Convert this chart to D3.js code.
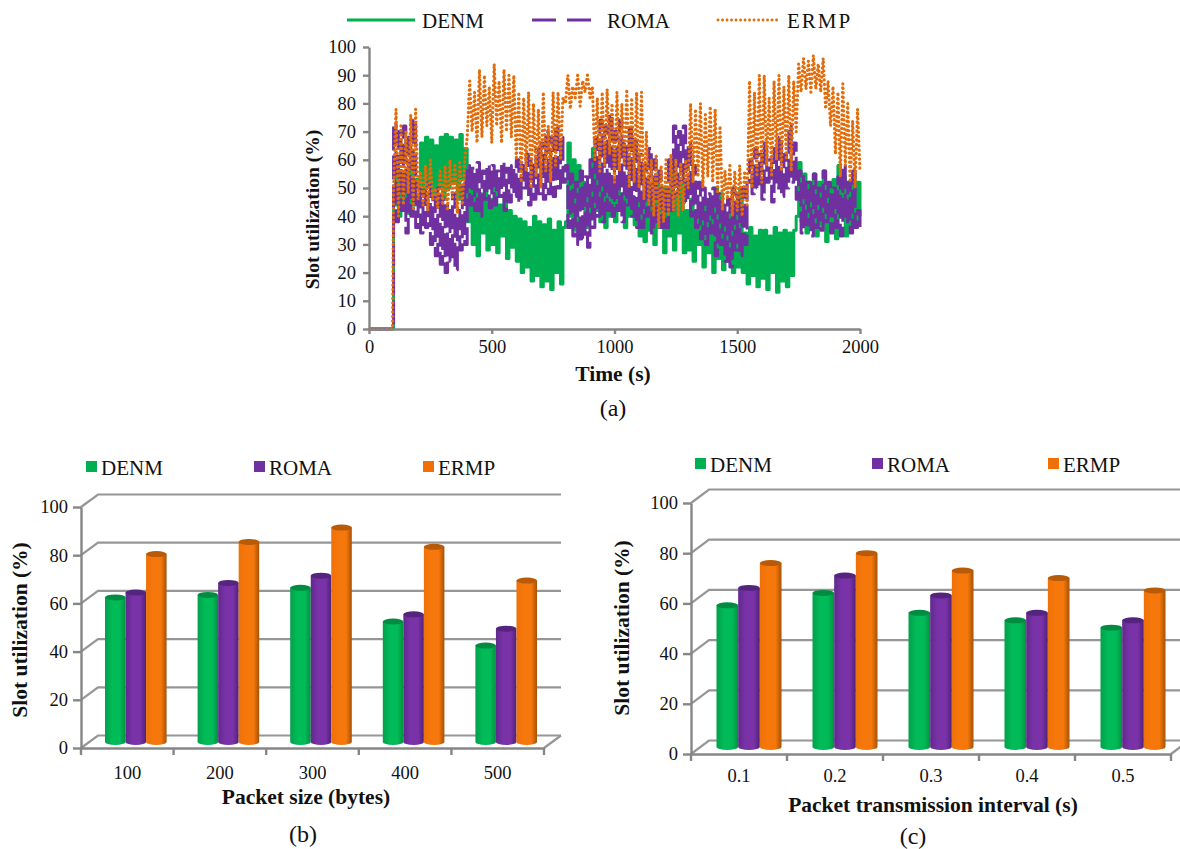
<!DOCTYPE html>
<html>
<head>
<meta charset="utf-8">
<script src="https://cdn.jsdelivr.net/npm/d3@7"></script>
<style>
  body { margin: 0; background: #fff; }
  svg { display: block; }
  text { font-family: "Liberation Serif", "Times New Roman", serif; fill: #111; }
  .title { font-weight: bold; font-size: 21.5px; }
  .tick text { font-size: 18.5px; }
  .axis path, .axis line { stroke: #868686; stroke-width: 2.4px; }
  .grid { stroke: #969696; stroke-width: 2.2px; fill: none; }
</style>
</head>
<body>
<svg id="chart" width="1180" height="849"></svg>
<script>
const seriesNames = ['DENM', 'ROMA', 'ERMP'];
const seriesColors = ['#00b050', '#7030a0', '#e36c0a'];

// panel (a) - one reading every 10 s from t=100, 10 readings per row
const leadTimes = [0, 50, 96];
const timeSeries = d3.range(100, 2001, 10);
const denmLine = [
  44,57,40,55,43,52,41,60,44,53,
  50,66,47,68,52,67,48,65,50,68,
  46,69,50,68,52,67,46,69,53,64,
  38,54,30,50,26,48,34,52,28,46,
  30,50,27,44,33,47,25,42,29,40,
  24,39,20,38,22,36,17,40,19,38,
  15,37,17,39,14,35,20,38,16,36,
  38,66,40,60,35,58,44,52,36,50,
  40,64,42,58,38,54,36,55,40,52,
  38,50,42,48,36,52,40,47,37,46,
  33,48,31,52,35,46,30,55,36,50,
  27,50,33,56,28,48,34,52,27,42,
  28,46,24,42,30,44,22,46,27,40,
  20,50,25,48,21,38,24,42,20,44,
  22,50,20,34,16,36,19,33,15,35,
  18,35,14,33,20,36,13,34,17,35,
  15,34,19,35,40,59,38,55,34,52,
  40,55,33,52,37,56,31,50,38,53,
  32,58,40,54,33,52,36,55,38,52,
  40
];
const romaLine = [
  73,38,70,42,72,34,68,40,74,36,
  50,34,49,36,52,30,47,26,50,23,
  46,20,44,24,48,21,42,28,52,30,
  58,44,57,42,59,40,56,46,58,43,
  58,44,56,47,59,42,57,45,58,47,
  60,45,58,50,62,44,60,46,64,48,
  66,46,70,48,68,47,72,50,68,52,
  58,36,55,33,52,30,56,32,54,29,
  60,36,68,40,74,38,72,42,76,40,
  70,42,74,38,66,44,72,40,68,36,
  62,36,58,40,64,34,60,38,56,36,
  50,36,60,42,72,48,70,52,72,45,
  66,40,58,36,52,32,50,30,48,34,
  50,26,48,30,44,24,46,22,50,28,
  48,26,50,30,52,60,48,64,50,62,
  46,66,52,60,45,64,50,68,47,62,
  50,72,52,66,46,56,34,54,37,52,
  33,55,36,50,35,56,38,52,34,50,
  36,54,33,58,38,52,34,56,36,42,
  35
];
const ermpLine = [
  50,78,40,72,44,70,48,76,42,78,
  46,56,44,58,42,60,46,50,43,56,
  44,58,42,60,46,58,41,59,44,60,
  68,88,70,84,66,92,68,90,72,86,
  66,94,72,88,66,92,70,90,68,90,
  60,84,52,82,56,84,50,80,54,78,
  50,84,56,72,52,84,58,84,60,82,
  80,90,78,86,82,90,79,88,84,90,
  82,86,60,82,56,84,58,85,62,80,
  52,84,56,80,58,85,50,82,52,84,
  50,84,46,70,44,60,40,62,36,58,
  38,60,40,62,42,60,40,59,42,60,
  50,80,52,78,54,80,50,76,54,79,
  52,78,48,72,42,56,46,58,40,56,
  42,58,40,56,44,88,50,84,54,90,
  52,90,58,82,54,88,60,90,56,86,
  60,90,56,88,70,94,84,96,85,95,
  84,97,85,94,84,96,78,88,72,86,
  62,84,54,87,58,80,52,74,50,78,
  56
];

// panel (b)
const packetSizes = ['100', '200', '300', '400', '500'];
const denmSize = [60, 61, 64, 50, 40];
const romaSize = [62, 66, 69, 53, 47];
const ermpSize = [78, 83, 89, 81, 67];

// panel (c)
const intervals = ['0.1', '0.2', '0.3', '0.4', '0.5'];
const denmInterval = [57, 62, 54, 51, 48];
const romaInterval = [64, 69, 61, 54, 51];
const ermpInterval = [74, 78, 71, 68, 63];

const yTicksLine = d3.range(0, 101, 10);
const xTicksLine = [0, 500, 1000, 1500, 2000];
const yTicksBar = [0, 20, 40, 60, 80, 100];

const svg = d3.select('#chart');

// gradients for the cylinders: [left edge, highlight, right edge, top cap]
const cylinderShades = [
  ['#03a04c', '#00bb58', '#01903f', '#018c42'],
  ['#5f2a8c', '#7a32a8', '#4e2278', '#54247e'],
  ['#ee7008', '#f6780c', '#a65206', '#b85a08']
];
const defs = svg.append('defs');
cylinderShades.forEach((s, i) => {
  const g = defs.append('linearGradient').attr('id', 'cyl' + i);
  g.append('stop').attr('offset', '0%').attr('stop-color', s[0]);
  g.append('stop').attr('offset', '35%').attr('stop-color', s[1]);
  g.append('stop').attr('offset', '72%').attr('stop-color', s[1]);
  g.append('stop').attr('offset', '100%').attr('stop-color', s[2]);
});

function label(x, y, str, size, anchor, cls) {
  return svg.append('text').attr('x', x).attr('y', y)
    .attr('class', cls || null)
    .attr('text-anchor', anchor || 'middle')
    .style('font-size', size ? size + 'px' : null)
    .text(str);
}

function yTitle(x, y, size) {
  svg.append('text').attr('class', 'title')
    .attr('transform', `translate(${x},${y}) rotate(-90)`)
    .attr('text-anchor', 'middle')
    .style('font-size', size ? size + 'px' : null)
    .text('Slot utilization (%)');
}

// ---------- (a) line chart ----------
function drawLineChart() {
  const x = d3.scaleLinear().domain([0, 2000]).range([369, 860]);
  const y = d3.scaleLinear().domain([0, 100]).range([329, 47]);

  const lines = [denmLine, romaLine, ermpLine];
  const dashes = [null, '24 5', '0.1 4.4'];
  const widths = [3, 3, 3.2];

  const line = d3.line().x(d => x(d[0])).y(d => y(d[1]));
  const stepLine = d3.line().x(d => x(d[0])).y(d => y(d[1])).curve(d3.curveStepAfter);
  lines.forEach((vals, i) => {
    const pts = leadTimes.map(t => [t, 0]).concat(timeSeries.map((t, j) => [t, vals[j]]));
    svg.append('path').attr('d', i === 2 ? line(pts) : stepLine(pts))
      .attr('fill', 'none')
      .attr('stroke', seriesColors[i])
      .attr('stroke-width', widths[i])
      .attr('stroke-dasharray', dashes[i])
      .attr('stroke-linecap', i === 2 ? 'round' : 'butt')
      .attr('stroke-linejoin', 'round');
  });

  svg.append('g').attr('class', 'axis').attr('transform', 'translate(369,0)')
    .call(d3.axisLeft(y).tickValues(yTicksLine).tickSize(6).tickPadding(7).tickSizeOuter(0));
  svg.append('g').attr('class', 'axis').attr('transform', 'translate(0,329)')
    .call(d3.axisBottom(x).tickValues(xTicksLine).tickSize(5).tickPadding(6).tickSizeOuter(0).tickFormat(d3.format('d')));

  // legend
  const legendDash = [null, '24 11', '0.1 4.4'];
  const legendX = [[347, 415, 422], [532, 591, 607], [718, 780, 787]];
  legendX.forEach((l, i) => {
    svg.append('line').attr('x1', l[0]).attr('x2', l[1]).attr('y1', 20).attr('y2', 20)
      .attr('stroke', seriesColors[i])
      .attr('stroke-width', 2.8)
      .attr('stroke-linecap', i === 2 ? 'round' : 'butt')
      .attr('stroke-dasharray', legendDash[i]);
    const t = label(l[2], 28, seriesNames[i], 21, 'start');
    if (i === 2) t.style('letter-spacing', '2px');
  });

  yTitle(319, 209.5, 19.5);
  label(613, 381, 'Time (s)', null, 'middle', 'title');
  label(613, 416, '(a)', 24);
}

// ---------- (b), (c) pseudo 3D bar charts ----------
function drawBarChart(cfg) {
  const depthX = cfg.depthX, depthY = cfg.depthY;
  const x0 = cfg.xRange[0], x1 = cfg.xRange[1];
  const y = d3.scaleLinear().domain([0, 100]).range(cfg.yRange);
  const barY = d3.scaleLinear().domain([0, 100]).range([cfg.barBase, cfg.barBase - cfg.barHeight]);
  const xCat = d3.scaleBand().domain(cfg.categories).range([x0, x1]);
  const xSer = d3.scaleBand().domain(seriesNames).range([cfg.inset, xCat.bandwidth() - cfg.inset]);

  // back wall grid + floor diagonals
  yTicksBar.forEach(t => {
    svg.append('path').attr('class', 'grid')
      .attr('d', `M${x0},${y(t)}L${x0 + depthX},${y(t) - depthY}H${x1 + depthX}`);
  });
  svg.append('path').attr('class', 'grid')
    .attr('d', `M${x1},${y(0)}L${x1 + depthX},${y(0) - depthY}`);

  // cylinders
  const ry = 3;
  cfg.series.forEach((vals, s) => {
    const name = seriesNames[s];
    const w = xSer.bandwidth();
    const g = svg.append('g');
    const left = (d, i) => xCat(cfg.categories[i]) + xSer(name) + depthX / 2 + cfg.nudge;
    g.selectAll('path.body').data(vals).join('path')
      .attr('class', 'body')
      .attr('fill', `url(#cyl${s})`)
      .attr('d', (d, i) => {
        const l = left(d, i), top = barY(d), base = cfg.barBase;
        return `M${l},${top}V${base}A${w / 2},${ry} 0 0 0 ${l + w},${base}V${top}Z`;
      });
    g.selectAll('ellipse').data(vals).join('ellipse')
      .attr('cx', (d, i) => left(d, i) + w / 2)
      .attr('cy', d => barY(d))
      .attr('rx', w / 2)
      .attr('ry', ry)
      .attr('fill', cylinderShades[s][3]);
  });

  // front axes
  svg.append('g').attr('class', 'axis').attr('transform', `translate(${x0},0)`)
    .call(d3.axisLeft(y).tickValues(yTicksBar).tickSize(8).tickPadding(5).tickSizeOuter(0));
  const gx = svg.append('g').attr('class', 'axis').attr('transform', `translate(0,${y(0)})`)
    .call(d3.axisBottom(xCat).tickSize(0).tickPadding(cfg.catPad));
  // ticks sit on the category boundaries
  gx.selectAll('line.sep').data(d3.range(cfg.categories.length + 1)).join('line')
    .attr('class', 'sep')
    .attr('x1', i => x0 + i * xCat.bandwidth())
    .attr('x2', i => x0 + i * xCat.bandwidth())
    .attr('y1', 0).attr('y2', 7);

  // legend
  cfg.legend.forEach((l, i) => {
    svg.append('rect').attr('x', l).attr('y', cfg.legendY).attr('width', 11).attr('height', 11)
      .attr('fill', seriesColors[i] === '#e36c0a' ? '#f07008' : seriesColors[i]);
    label(l + 15, cfg.legendY + 14, seriesNames[i], 21, 'start');
  });

  yTitle(cfg.yTitle[0], cfg.yTitle[1]);
  label(cfg.xTitle[0], cfg.xTitle[1], cfg.xLabel, null, 'middle', 'title');
  label(cfg.tag[0], cfg.tag[1], cfg.tag[2], 24);
}

drawLineChart();

drawBarChart({
  categories: packetSizes,
  series: [denmSize, romaSize, ermpSize],
  xRange: [81, 544], yRange: [748, 507],
  barBase: 742, barHeight: 241, depthX: 17, depthY: 12.5, inset: 15.5, catPad: 18, nudge: 0,
  legend: [86, 254, 423], legendY: 461,
  yTitle: [27, 630],
  xTitle: [306, 804], xLabel: 'Packet size (bytes)',
  tag: [303, 842, '(b)']
});

drawBarChart({
  categories: intervals,
  series: [denmInterval, romaInterval, ermpInterval],
  xRange: [691, 1171], yRange: [754, 503],
  barBase: 747, barHeight: 248.5, depthX: 18, depthY: 13.5, inset: 15.5, catPad: 15, nudge: 1,
  legend: [695, 872, 1048], legendY: 458,
  yTitle: [629, 628],
  xTitle: [933, 812], xLabel: 'Packet transmission interval (s)',
  tag: [913, 844, '(c)']
});
</script>
</body>
</html>
